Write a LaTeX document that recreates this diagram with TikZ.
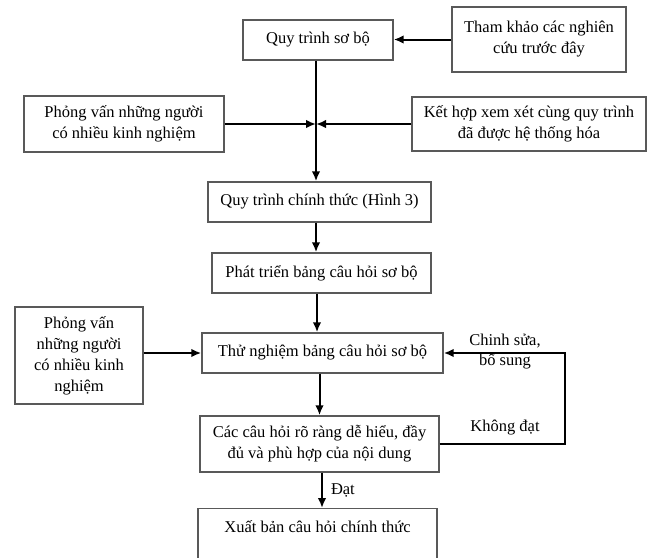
\documentclass[tikz,border=0pt]{standalone}
\usepackage{fontspec}
\setmainfont{Liberation Serif}
\usepackage{tikz}
\usetikzlibrary{positioning,arrows.meta}

\newcommand{\boxfont}{\fontsize{16.5}{21}\selectfont}

\tikzset{
  stepbox/.style={draw=black!65, line width=1.4pt, align=center, font=\boxfont, inner sep=0pt},
  flow/.style={-{Latex[length=10pt,width=8.5pt]}, line width=2pt},
  note/.style={font=\boxfont, align=center, inner sep=0pt}
}

\begin{document}
\begin{tikzpicture}[x=1pt, y=-1pt]
                        % Fix the page size
                        \useasboundingbox (0,0) rectangle (652,557);

                        % Draw the upper boxes
                        \node[stepbox, minimum width=150, minimum height=40] (draft) at (318,40) {Quy trình sơ bộ};
                        \node[stepbox, minimum width=174, minimum height=65] (review) at (539,39.5) {Tham khảo các nghiên\\cứu trước đây};
                        \node[stepbox, minimum width=200, minimum height=56] (expert) at (124,124) {Phỏng vấn những người\\có nhiều kinh nghiệm};
                        \node[stepbox, minimum width=234, minimum height=54] (merge) at (529,124) {Kết hợp xem xét cùng quy trình\\đã được hệ thống hóa};
                        \coordinate (join) at (316,124);

                        % Draw the middle boxes
                        \node[stepbox, minimum width=223, minimum height=40] (final) at (319.5,202) {Quy trình chính thức (Hình 3)};
                        \node[stepbox, minimum width=219, minimum height=40] (develop) at (321.5,273) {Phát triển bảng câu hỏi sơ bộ};
                        \node[stepbox, minimum width=128, minimum height=97] (expertb) at (79,355.5) {Phỏng vấn\\những người\\có nhiều kinh\\nghiệm};
                        \node[stepbox, minimum width=241, minimum height=40] (pilot) at (322.5,353) {Thử nghiệm bảng câu hỏi sơ bộ};
                        \node[stepbox, minimum width=239, minimum height=56] (check) at (319.5,444) {Các câu hỏi rõ ràng dễ hiểu, đầy\\đủ và phù hợp của nội dung};

                        % Draw the last box, cut by the page edge
                        \node[stepbox, anchor=north, minimum width=239, text height=20pt, text depth=52pt, inner ysep=4pt] (publish) at (317.5,508) {Xuất bản câu hỏi chính thức};
                        \coordinate (bend) at (565,444);

                        % Draw the arrows
                        \draw[flow] (review.west) -- (review.west -| draft.east);
                        \draw[flow] (join |- draft.south) -- (join |- final.north);
                        \draw[flow] (expert.east) -- (join);
                        \draw[flow] (merge.west) -- (join);
                        \draw[flow] (join |- final.south) -- (join |- develop.north);
                        \draw[flow] ([xshift=-4.5pt]develop.south) -- ([xshift=-4.5pt]develop.south |- pilot.north);
                        \draw[flow] ([xshift=-3pt]pilot.south) -- ([xshift=-3pt]pilot.south |- check.north);
                        \draw[flow] ([xshift=2.5pt]check.south) -- ([xshift=2.5pt]check.south |- publish.north) node[note, midway, right=8pt] {Đạt};
                        \draw[flow] (expertb.east |- pilot.west) -- (pilot.west);

                        % Draw the loop back
                        \draw[flow] (check.east |- bend) -- (bend) |- (pilot.east);
                        \node[note] (redo) at (505,352) {Chinh sửa,\\[-1pt]bổ sung};
                        \node[note] (fail) at (505,428) {Không đạt};
                      \end{tikzpicture}
\end{document}
